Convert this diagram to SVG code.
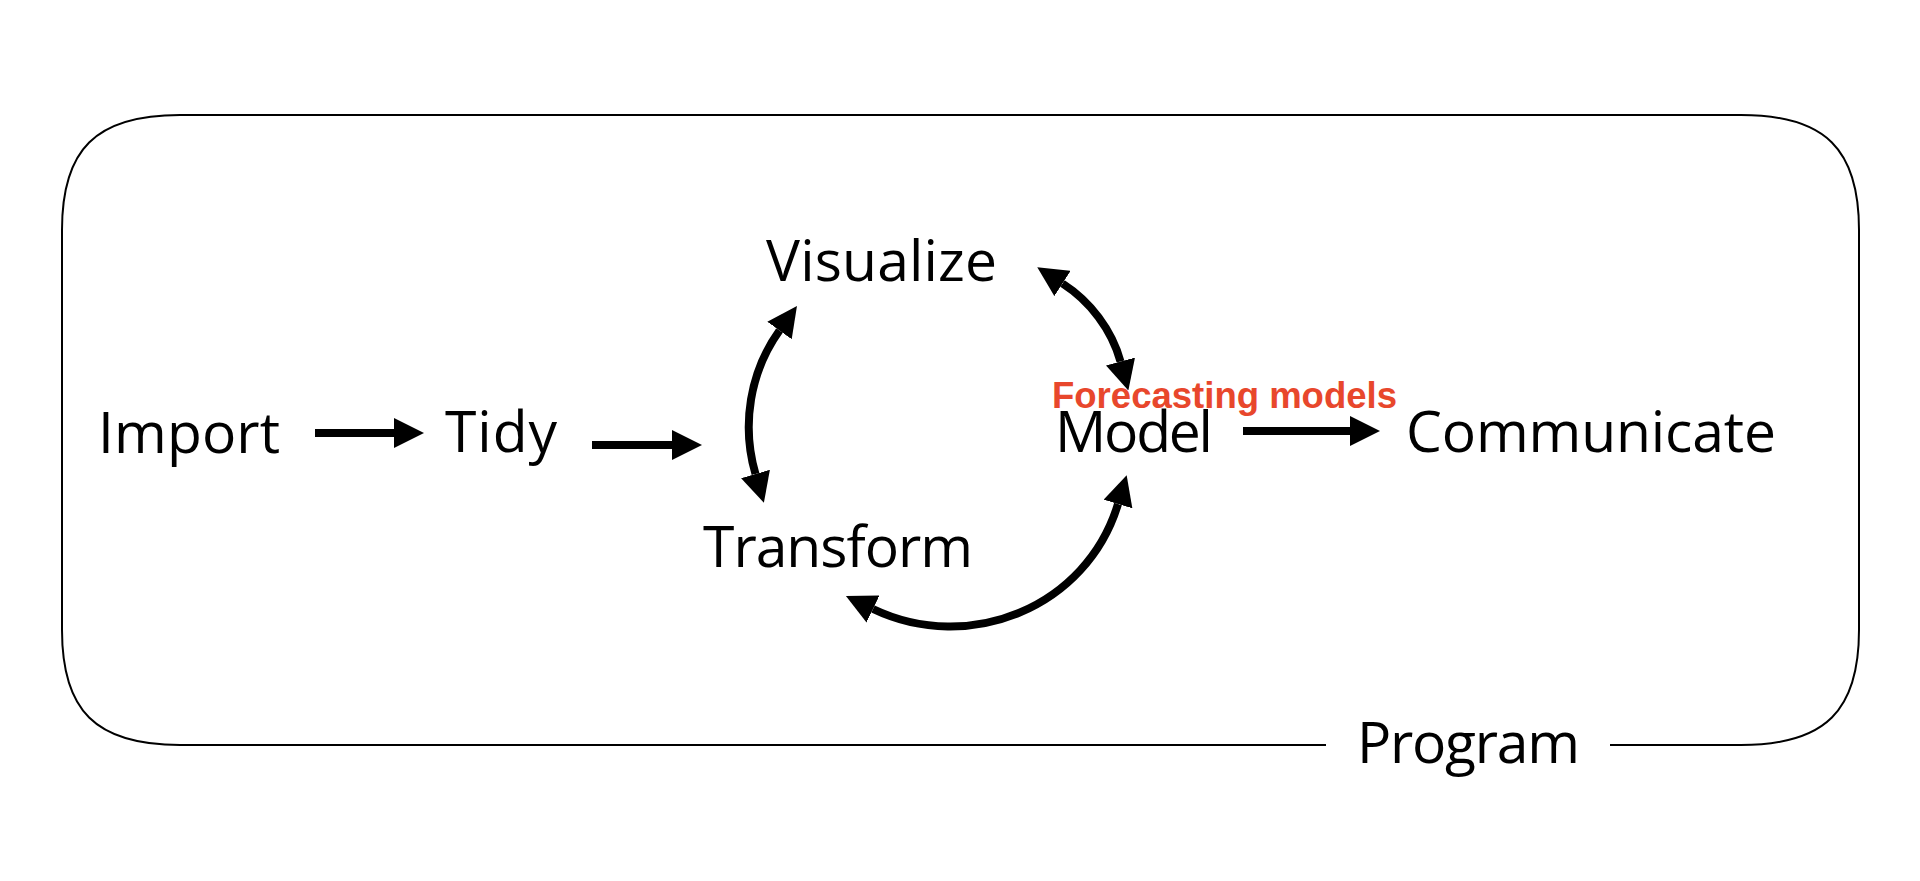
<svg xmlns="http://www.w3.org/2000/svg" width="1920" height="881" viewBox="0 0 1920 881">
<style>
.node{font-family:"Open Sans","Noto Sans","Liberation Sans",sans-serif;font-size:57px;fill:#000}
.lbl{font-family:"Liberation Sans",Arial,sans-serif;font-weight:bold;font-size:36px;fill:#E8472C}
.frame{fill:none;stroke:#000;stroke-width:2}
.conn path{fill:none;stroke:#000;stroke-width:8;stroke-linecap:butt}
</style>
<defs>
<marker id="head" markerUnits="userSpaceOnUse" markerWidth="30" markerHeight="30" refX="0" refY="15" orient="auto-start-reverse">
<path d="M0,0 L30,15 L0,30 z" fill="#000"/>
</marker>
</defs>
<rect width="1920" height="881" fill="#fff"/>
<g id="program">
<path class="frame" d="M1610,745 L1741,745 C1826,745 1859,710 1859,630 L1859,230 C1859,150 1826,115 1741,115 L180,115 C95,115 62,150 62,230 L62,630 C62,710 95,745 180,745 L1326,745"/>
<text class="node" x="1357" y="763" textLength="223" lengthAdjust="spacing">Program</text>
</g>
<g id="import"><text class="node" x="98" y="453" textLength="182" lengthAdjust="spacing">Import</text></g>
<g id="tidy"><text class="node" x="445" y="452" textLength="112" lengthAdjust="spacing">Tidy</text></g>
<g id="visualize"><text class="node" x="766" y="281" textLength="231" lengthAdjust="spacing">Visualize</text></g>
<g id="transform"><text class="node" x="703" y="567" textLength="270" lengthAdjust="spacing">Transform</text></g>
<g id="model">
<text class="node" x="1055" y="452" textLength="158" lengthAdjust="spacing">Model</text>
<text class="lbl" x="1052" y="408" textLength="345" lengthAdjust="spacingAndGlyphs">Forecasting models</text>
</g>
<g id="communicate"><text class="node" x="1406" y="452" textLength="370" lengthAdjust="spacing">Communicate</text></g>
<g id="connectors" class="conn">
<path d="M315,433 L394,433" marker-end="url(#head)"/>
<path d="M592,445 L672,445" marker-end="url(#head)"/>
<path d="M1243,431 L1350,431" marker-end="url(#head)"/>
<path d="M779.5,330.5 C749.9,371.8 741.2,425 755.5,474" marker-start="url(#head)" marker-end="url(#head)"/>
<path d="M1062.5,283.5 C1090.2,301.3 1111.9,329.8 1120.5,361.5" marker-start="url(#head)" marker-end="url(#head)"/>
<path d="M873,609 C969.6,655.1 1086.9,607 1118,504" marker-start="url(#head)" marker-end="url(#head)"/>
</g>
</svg>
